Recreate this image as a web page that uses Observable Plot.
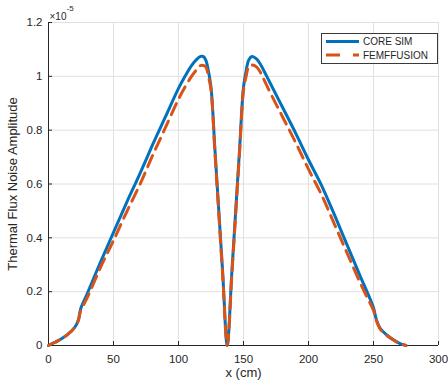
<!DOCTYPE html>
<html>
<head>
<meta charset="utf-8">
<script src="https://cdn.jsdelivr.net/npm/d3@7"></script>
<script src="https://cdn.jsdelivr.net/npm/@observablehq/plot@0.6"></script>
<style>
  html, body { margin: 0; padding: 0; background: #fff; }
  #wrap { position: relative; width: 448px; height: 380px; font-family: "Liberation Sans", Arial, Helvetica, sans-serif; }
  #legend { position: absolute; left: 321px; top: 33px; width: 115px; height: 29px; border: 1px solid #3a3a3a; background: #fff; box-sizing: content-box; }
  #legend svg { position: absolute; left: 0; top: 0; }
</style>
</head>
<body>
<div id="wrap"></div>
<script>
// x positions (cm)
const xCore = [0, 5, 10, 15, 20, 23, 24, 25, 30, 40, 50, 60, 70, 80, 90, 100, 105, 110, 114, 117, 119, 121, 123, 125, 128, 131, 134, 137.5,
  141, 144, 147, 150, 152, 154, 156.5, 160, 163, 166, 170, 180, 190, 200, 210, 220, 230, 240, 245, 250, 251, 252, 255, 260, 265, 270, 275];
// CORE SIM amplitude (x 1e-5)
const coreSim = [0, 0.012, 0.025, 0.042, 0.066, 0.095, 0.12, 0.14, 0.195, 0.31, 0.42, 0.53, 0.635, 0.745, 0.85, 0.955, 1.0, 1.04, 1.063, 1.074, 1.074, 1.06, 1.02, 0.96, 0.73, 0.5, 0.27, 0,
  0.27, 0.5, 0.73, 0.96, 1.02, 1.06, 1.074, 1.065, 1.045, 1.018, 0.98, 0.885, 0.79, 0.69, 0.595, 0.485, 0.37, 0.255, 0.2, 0.14, 0.12, 0.1, 0.065, 0.04, 0.022, 0.008, 0];
// FEMFFUSION amplitude (x 1e-5)
const femffusion = [0, 0.012, 0.025, 0.042, 0.066, 0.093, 0.115, 0.132, 0.18, 0.29, 0.39, 0.495, 0.595, 0.705, 0.81, 0.915, 0.96, 1.0, 1.025, 1.04, 1.04, 1.035, 1.0, 0.95, 0.72, 0.49, 0.26, 0,
  0.26, 0.49, 0.72, 0.95, 1.0, 1.035, 1.042, 1.035, 1.015, 0.985, 0.945, 0.85, 0.755, 0.655, 0.56, 0.45, 0.34, 0.23, 0.18, 0.13, 0.112, 0.095, 0.062, 0.038, 0.021, 0.008, 0];

const xTicks = [0, 50, 100, 150, 200, 250, 300];
const yTicks = [0, 0.2, 0.4, 0.6, 0.8, 1, 1.2];
const seriesNames = ["CORE SIM", "FEMFFUSION"];
const seriesColors = ["#0072BD", "#D95319"];
const xLabel = "x (cm)";
const yLabel = "Thermal Flux Noise Amplitude";

const core = xCore.map((x, i) => ({x, y: coreSim[i]}));
const fem = xCore.map((x, i) => ({x, y: femffusion[i]}));

const axisColor = "#262626";
const font = "Liberation Sans, Arial, Helvetica, sans-serif";

const chart = Plot.plot({
  width: 448,
  height: 380,
  marginLeft: 48,
  marginRight: 10,
  marginTop: 22,
  marginBottom: 35,
  style: {fontFamily: font, fontSize: "11px", color: axisColor, background: "#fff"},
  x: {domain: [0, 300]},
  y: {domain: [0, 1.2]},
  marks: [
    Plot.gridX(xTicks, {stroke: "#e0e0e0", strokeOpacity: 1, strokeWidth: 1}),
    Plot.gridY(yTicks, {stroke: "#e0e0e0", strokeOpacity: 1, strokeWidth: 1}),
    Plot.ruleX(xTicks, {x: d => d, y1: 0, y2: 0, insetTop: -4, stroke: axisColor}),
    Plot.ruleY(yTicks, {y: d => d, x1: 0, x2: 0, insetRight: -4, stroke: axisColor}),
    Plot.axisX(xTicks, {tickSize: 0, tickPadding: 9, label: null, fontSize: 11.5, fill: axisColor}),
    Plot.axisY(yTicks, {tickSize: 0, tickPadding: 6, label: null, fontSize: 11.5, fill: axisColor, tickFormat: d => String(d)}),
    Plot.ruleY([0], {stroke: axisColor, strokeWidth: 1}),
    Plot.ruleX([0], {stroke: axisColor, strokeWidth: 1}),
    Plot.line(core, {x: "x", y: "y", stroke: seriesColors[0], strokeWidth: 3, curve: "catmull-rom"}),
    Plot.line(fem, {x: "x", y: "y", stroke: seriesColors[1], strokeWidth: 3, strokeDasharray: "12,7", curve: "catmull-rom"}),
    Plot.text([xLabel], {frameAnchor: "bottom", lineAnchor: "middle", textAnchor: "middle", dy: 27, fontSize: 13, fill: axisColor}),
    Plot.text([yLabel], {frameAnchor: "left", lineAnchor: "middle", textAnchor: "middle", rotate: -90, dx: -36, fontSize: 13, fill: axisColor}),
    Plot.text(["\u00d710"], {frameAnchor: "top-left", lineAnchor: "middle", textAnchor: "start", dx: 1, dy: -6, fontSize: 10, fill: axisColor}),
    Plot.text(["-5"], {frameAnchor: "top-left", lineAnchor: "middle", textAnchor: "start", dx: 18, dy: -14, fontSize: 8, fill: axisColor})
  ]
});

const wrap = document.getElementById("wrap");
wrap.appendChild(chart);

// legend
const legend = document.createElement("div");
legend.id = "legend";
const ns = "http://www.w3.org/2000/svg";
const svg = document.createElementNS(ns, "svg");
svg.setAttribute("width", 115);
svg.setAttribute("height", 29);
seriesNames.forEach((name, i) => {
  const cy = 7.5 + i * 13.5;
  const line = document.createElementNS(ns, "line");
  line.setAttribute("x1", 4);
  line.setAttribute("x2", 37);
  line.setAttribute("y1", cy);
  line.setAttribute("y2", cy);
  line.setAttribute("stroke", seriesColors[i]);
  line.setAttribute("stroke-width", 3);
  if (i === 1) line.setAttribute("stroke-dasharray", "14,13");
  svg.appendChild(line);
  const t = document.createElementNS(ns, "text");
  t.setAttribute("x", 41);
  t.setAttribute("y", cy + 3.6);
  t.setAttribute("font-size", 10);
  t.setAttribute("font-family", font);
  t.setAttribute("fill", axisColor);
  t.textContent = name;
  svg.appendChild(t);
});
legend.appendChild(svg);
wrap.appendChild(legend);
</script>
</body>
</html>
